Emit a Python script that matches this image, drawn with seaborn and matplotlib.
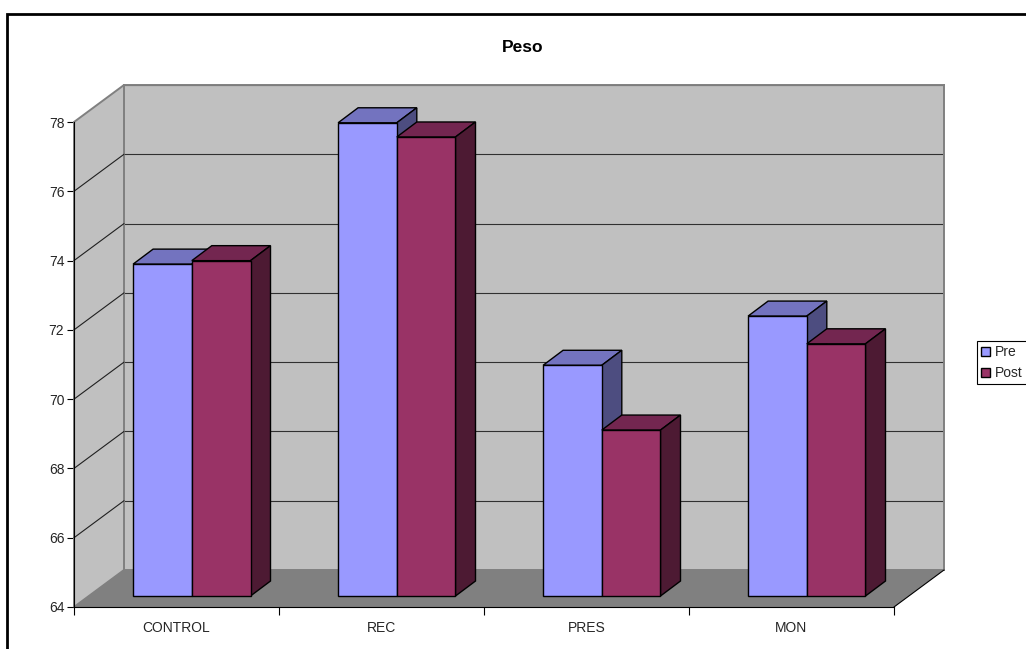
import matplotlib
matplotlib.use("Agg")
import matplotlib.pyplot as plt
from matplotlib.patches import Polygon, Rectangle
import numpy as np
import pandas as pd
import seaborn as sns

categories = ["CONTROL", "REC", "PRES", "MON"]
pre_values = [73.58, 77.66, 70.66, 72.08]
post_values = [73.68, 77.25, 68.79, 71.28]
series_names = ["Pre", "Post"]
y_ticks = [64, 66, 68, 70, 72, 74, 76, 78]

face_colors = ["#9999FF", "#993366"]
top_colors = ["#7373BF", "#732650"]
side_colors = ["#4D4D80", "#4D1A33"]
WALL = "#C0C0C0"
FLOOR = "#808080"

W, H = 1026, 649
sns.set_style("white")
plt.rcParams["font.family"] = ["Liberation Sans", "DejaVu Sans"]
plt.rcParams["font.size"] = 10

fig = plt.figure(figsize=(W / 100, H / 100), dpi=100, facecolor="white")


def axes_px(left, right, top, bottom, **kw):
    """Create axes from pixel edges measured from the top-left corner."""
    return fig.add_axes([left / W, 1 - bottom / H, (right - left) / W, (bottom - top) / H], **kw)


# Three aligned planes: back wall, front axis plane and the plane holding the bars
ax_back = axes_px(124, 944, 85, 570, zorder=0)
ax_front = axes_px(74, 894, 122, 607, zorder=1)
ax_bars = axes_px(89.3, 909.3, 111, 596, zorder=2)

xlim = (-0.5, len(categories) - 0.5)
ylim = (y_ticks[0], y_ticks[-1])
px_x = 820 / len(categories)
px_y = 485 / (y_ticks[-1] - y_ticks[0])

# Back wall with its horizontal gridlines
ax_back.set_facecolor(WALL)
ax_back.set_xlim(xlim)
ax_back.set_ylim(ylim)
ax_back.set_xticks([])
ax_back.set_yticks(y_ticks)
ax_back.tick_params(left=False, labelleft=False)
ax_back.grid(axis="y", color="#303030", lw=0.8)
for spine in ax_back.spines.values():
    spine.set_color("#808080")
    spine.set_linewidth(1.4)
    spine.set_zorder(5)

# Front plane: side wall, floor, axis lines and labels
ax_front.patch.set_visible(False)
ax_front.set_xlim(xlim)
ax_front.set_ylim(ylim)
wall_dx = 50 / px_x
wall_dy = 37 / px_y
x0, x1 = xlim
y0, y1 = ylim
ax_front.add_patch(Polygon(
    [(x0, y0), (x0 + wall_dx, y0 + wall_dy), (x0 + wall_dx, y1 + wall_dy), (x0, y1)],
    closed=True, fc=WALL, ec="#808080", lw=1.4, clip_on=False, zorder=1))
ax_front.add_patch(Polygon(
    [(x0, y0), (x1, y0), (x1 + wall_dx, y0 + wall_dy), (x0 + wall_dx, y0 + wall_dy)],
    closed=True, fc=FLOOR, ec="none", clip_on=False, zorder=1))
for tick in y_ticks[1:-1]:
    ax_front.plot([x0, x0 + wall_dx], [tick, tick + wall_dy], color="#202020", lw=0.8,
                  clip_on=False, zorder=2)
ax_front.plot([x1, x1 + wall_dx], [y0, y0 + wall_dy], color="black", lw=0.8,
              clip_on=False, zorder=2)

for name, spine in ax_front.spines.items():
    spine.set_visible(name in ("left", "bottom"))
    spine.set_color("black")
    spine.set_linewidth(0.8)
ax_front.spines["left"].set_zorder(3)
ax_front.set_yticks(y_ticks)
ax_front.tick_params(axis="y", length=5, width=0.8, pad=2, color="black", left=True, labelsize=10)
ax_front.set_xticks(np.arange(len(categories)), categories)
ax_front.tick_params(axis="x", which="major", length=0, pad=10, bottom=True, labelsize=10)
ax_front.set_xticks(np.arange(len(categories) + 1) - 0.5, minor=True)
ax_front.tick_params(axis="x", which="minor", length=6, width=0.8, color="black", bottom=True)

# Bars
data = pd.DataFrame({
    "grupo": categories * 2,
    "serie": [series_names[0]] * len(categories) + [series_names[1]] * len(categories),
    "peso": pre_values + post_values,
})
sns.barplot(data=data, x="grupo", y="peso", hue="serie", order=categories, hue_order=series_names,
            palette=face_colors, width=117.4 / px_x, gap=0, saturation=1, edgecolor="black",
            linewidth=1.0, legend=False, errorbar=None, ax=ax_bars)
ax_bars.set_xlim(xlim)
ax_bars.set_ylim(ylim)
ax_bars.patch.set_visible(False)
ax_bars.axis("off")

bar_dx = 20 / px_x
bar_dy = 15 / px_y
for s, container in enumerate(ax_bars.containers):
    for bar in container:
        left, w, value = bar.get_x(), bar.get_width(), bar.get_height()
        right = left + w
        # Bars rise from the floor rather than from zero
        bar.set_y(y0)
        bar.set_height(value - y0)
        bar.set_clip_on(False)
        bar.set_zorder(3 + 2 * s)
        ax_bars.add_patch(Polygon(
            [(left, value), (right, value), (right + bar_dx, value + bar_dy), (left + bar_dx, value + bar_dy)],
            closed=True, fc=top_colors[s], ec="black", lw=1.0, clip_on=False, zorder=2 + 2 * s))
        ax_bars.add_patch(Polygon(
            [(right, y0), (right + bar_dx, y0 + bar_dy), (right + bar_dx, value + bar_dy), (right, value)],
            closed=True, fc=side_colors[s], ec="black", lw=1.0, clip_on=False, zorder=2 + 2 * s))

# Title, legend and outer frame
fig.text(522.5 / W, 1 - 47 / H, "Peso", ha="center", va="center", fontsize=12.5, fontweight="bold", color="black")
fig.legend(handles=[c[0] for c in ax_bars.containers], labels=series_names,
           loc="upper left", bbox_to_anchor=(977 / W, 1 - 341 / H), fontsize=10,
           frameon=True, fancybox=False, framealpha=1, edgecolor="black",
           borderpad=0.3, borderaxespad=0, labelspacing=0.5,
           handlelength=0.65, handleheight=0.65, handletextpad=0.35)
fig.legends[0].get_frame().set_linewidth(0.8)
fig.add_artist(Rectangle((7 / W, -0.1), 1.2, 1.1 - 14 / H, transform=fig.transFigure,
                         fill=False, ec="black", lw=2.0))

fig.savefig("out.png", dpi=100, facecolor="white")
